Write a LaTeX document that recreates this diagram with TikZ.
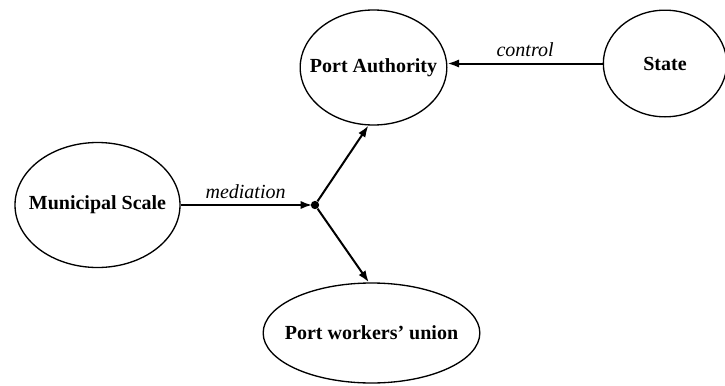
\documentclass[tikz,border=0pt]{standalone}
\usepackage{fontspec}
\setmainfont{Liberation Serif}
\usetikzlibrary{shapes.geometric, arrows.meta, positioning}

\tikzset{
  actor/.style={draw, ellipse, line width=0.8pt, inner sep=0pt, font=\fontsize{12}{14}\selectfont\bfseries},
  link/.style={line width=1.2pt, -{Latex[length=7pt,width=5pt]}},
  lbl/.style={font=\fontsize{12}{14}\selectfont\itshape, above}
}

\begin{document}
\begin{tikzpicture}[x=0.6pt, y=-0.6pt]
        \useasboundingbox (0,0) rectangle (725,385);
        % Actors
        \node[actor, minimum width=88pt, minimum height=69pt] (pa) at (373.5,67.5) {\makebox[0pt]{Port Authority}};
        \node[actor, minimum width=74pt, minimum height=64pt] (st) at (665,63.5) {\makebox[0pt]{State}};
        \node[actor, minimum width=99pt, minimum height=75pt] (mun) at (97.5,205) {\makebox[0pt]{Municipal Scale}};
        \node[actor, minimum width=130pt, minimum height=60pt] (un) at (371.5,333) {\makebox[0pt]{Port workers’ union}};
        % Branch point
        \node[circle, fill, inner sep=0pt, minimum size=5pt] (hub) at (315,205) {};
        % Relations
        \draw[link] (st.west) -- node[lbl] {control} (pa.east |- st.west);
        \draw[link, shorten >=-1pt] (mun.east) -- node[lbl] {mediation} (hub.west);
        \draw[link] (hub) -- (pa.-95);
        \draw[link] (hub) -- (un.93);
\end{tikzpicture}
\end{document}
